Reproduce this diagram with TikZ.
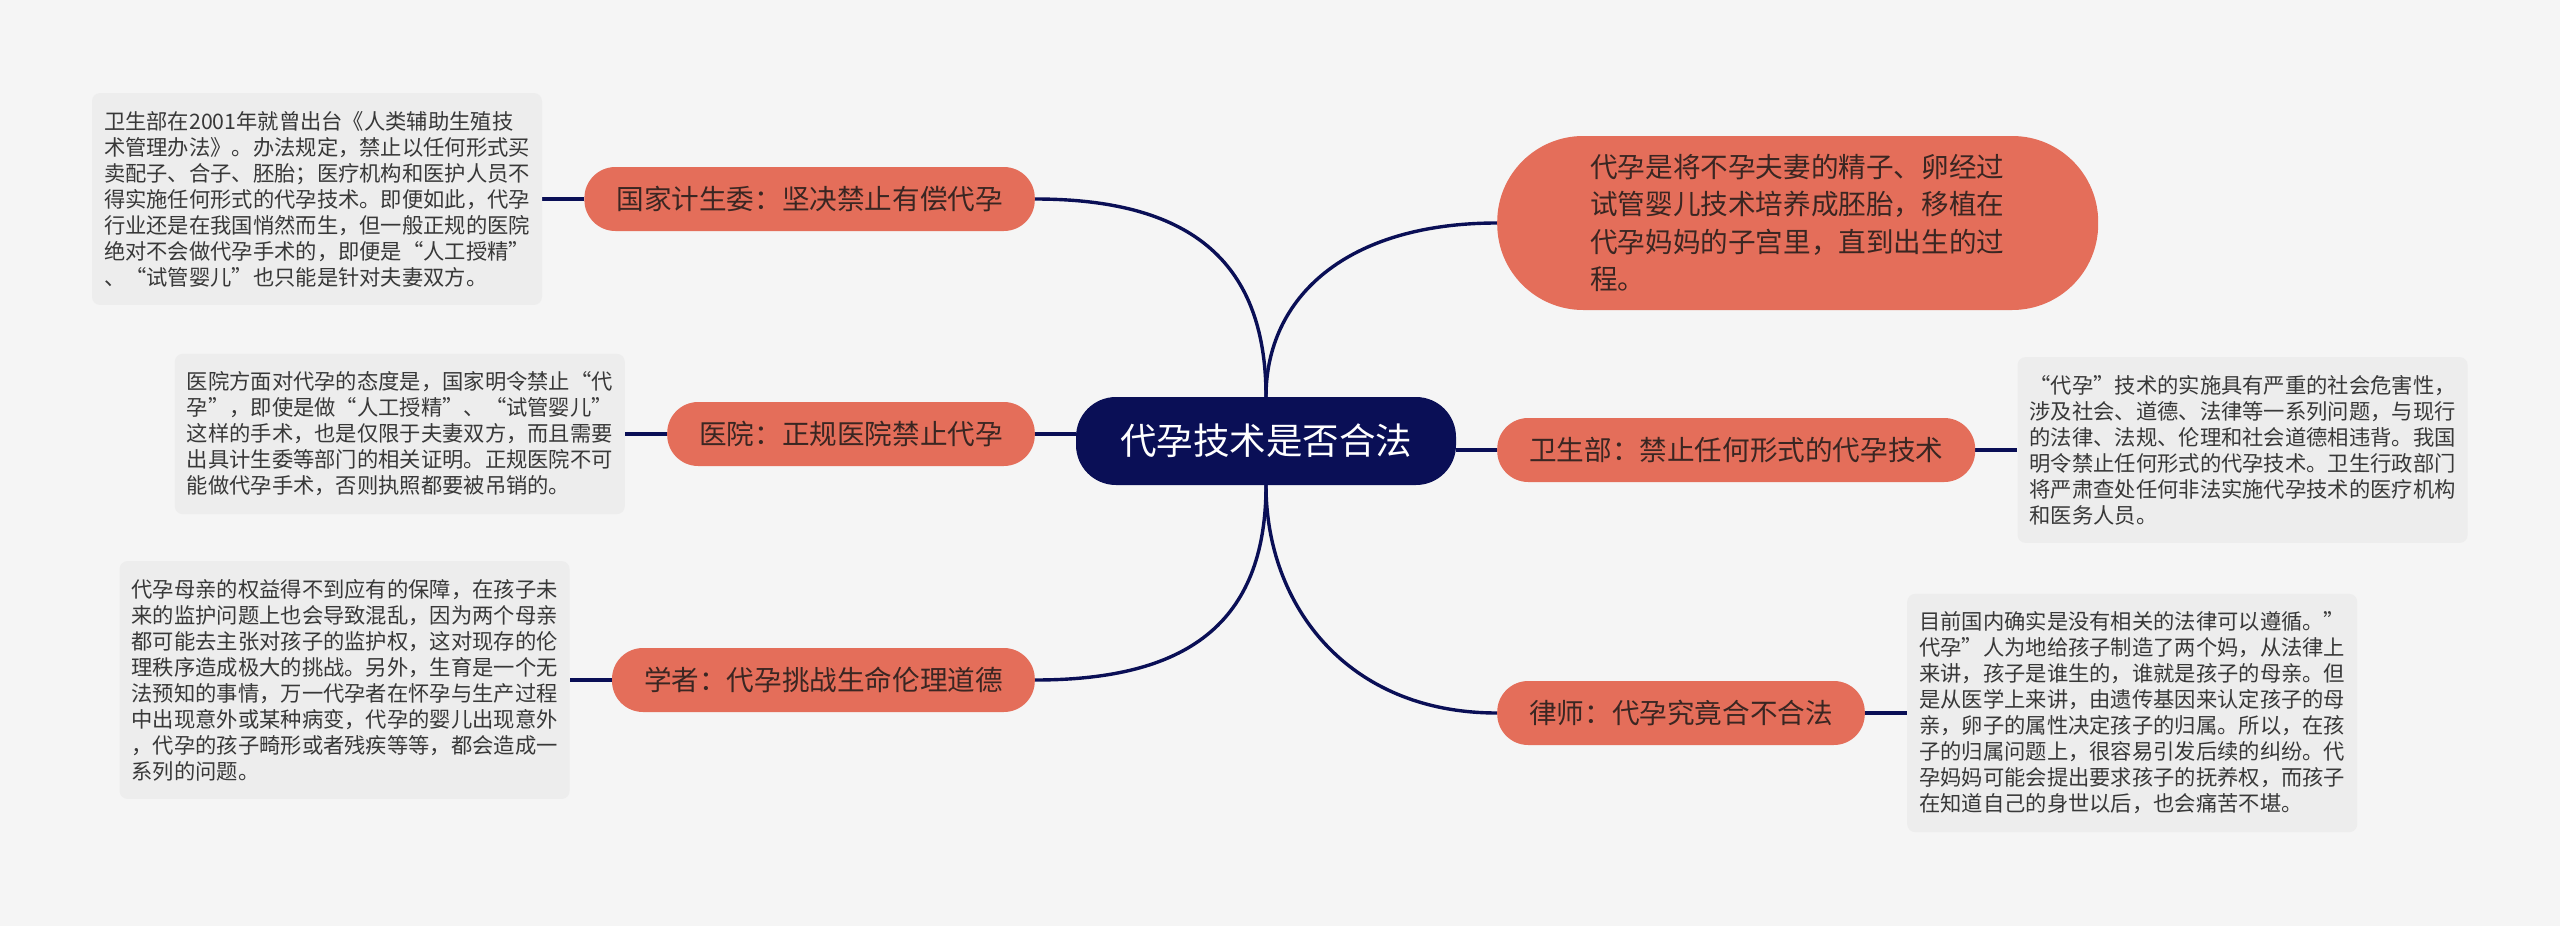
\documentclass[tikz,border=0pt]{standalone}
\usepackage{fontspec}
\setmainfont{Noto Sans CJK SC}
\usetikzlibrary{positioning, backgrounds}
\definecolor{pagegray}{HTML}{F5F5F5}
\definecolor{coral}{HTML}{E46E5A}
\definecolor{navy}{HTML}{0A0F56}
\definecolor{notegray}{HTML}{EDEDED}
\definecolor{notetext}{HTML}{383838}
\definecolor{topictext}{HTML}{3A2622}

\tikzset{
  root/.style={fill=navy, text=white, rounded corners=40pt, minimum height=88pt,
    inner xsep=44pt, inner ysep=0pt, font=\fontsize{36.5}{40}\selectfont},
  topic/.style={fill=coral, text=topictext, rounded corners=31pt, minimum height=64pt,
    inner xsep=32pt, inner ysep=0pt, font=\fontsize{27.6}{32}\selectfont},
  bigtopic/.style={topic, rounded corners=86pt, minimum height=174pt, minimum width=601pt,
    text width=415pt, align=left, font=\fontsize{27.6}{37.5}\selectfont},
  note/.style={fill=notegray, text=notetext, rounded corners=8pt, text width=426pt,
    inner xsep=12pt, inner ysep=18pt, align=left, font=\fontsize{21.3}{26}\selectfont},
  link/.style={draw=navy, line width=3.4pt},
}

\begin{document}
\begin{tikzpicture}[x=1pt, y=-1pt]

\def\gap{42pt}    % topic -> note distance
\useasboundingbox (0,0) rectangle (2560,926);

% --- Root ---
\node[root] (ctr) at (1266,441) {代孕技术是否合法};

% --- Left topics ---
\node[topic, anchor=east] (gj) at (1035,199) {国家计生委：坚决禁止有偿代孕};
\node[topic, anchor=east] (yy) at (1035,434) {医院：正规医院禁止代孕};
\node[topic, anchor=east] (xz) at (1035,680) {学者：代孕挑战生命伦理道德};

% --- Right topics ---
\node[bigtopic, anchor=west] (dy) at (1497,223)
  {代孕是将不孕夫妻的精子、卵经过\\试管婴儿技术培养成胚胎，移植在\\代孕妈妈的子宫里，直到出生的过\\程。};
\node[topic, anchor=west] (ws) at (1497,450) {卫生部：禁止任何形式的代孕技术};
\node[topic, anchor=west] (ls) at (1497,713) {律师：代孕究竟合不合法};

% --- Notes ---
\node[note, left=\gap of gj] (gjnote)
  {卫生部在2001年就曾出台《人类辅助生殖技\\术管理办法》。办法规定，禁止以任何形式买\\卖配子、合子、胚胎；医疗机构和医护人员不\\得实施任何形式的代孕技术。即便如此，代孕\\行业还是在我国悄然而生，但一般正规的医院\\绝对不会做代孕手术的，即便是“人工授精”\\、“试管婴儿”也只能是针对夫妻双方。};
\node[note, left=\gap of yy] (yynote)
  {医院方面对代孕的态度是，国家明令禁止“代\\孕”，即使是做“人工授精”、“试管婴儿”\\这样的手术，也是仅限于夫妻双方，而且需要\\出具计生委等部门的相关证明。正规医院不可\\能做代孕手术，否则执照都要被吊销的。};
\node[note, left=\gap of xz] (xznote)
  {代孕母亲的权益得不到应有的保障，在孩子未\\来的监护问题上也会导致混乱，因为两个母亲\\都可能去主张对孩子的监护权，这对现存的伦\\理秩序造成极大的挑战。另外，生育是一个无\\法预知的事情，万一代孕者在怀孕与生产过程\\中出现意外或某种病变，代孕的婴儿出现意外\\，代孕的孩子畸形或者残疾等等，都会造成一\\系列的问题。};
\node[note, right=\gap of ws] (wsnote)
  {“代孕”技术的实施具有严重的社会危害性，\\涉及社会、道德、法律等一系列问题，与现行\\的法律、法规、伦理和社会道德相违背。我国\\明令禁止任何形式的代孕技术。卫生行政部门\\将严肃查处任何非法实施代孕技术的医疗机构\\和医务人员。};
\node[note, right=\gap of ls] (lsnote)
  {目前国内确实是没有相关的法律可以遵循。”\\代孕”人为地给孩子制造了两个妈，从法律上\\来讲，孩子是谁生的，谁就是孩子的母亲。但\\是从医学上来讲，由遗传基因来认定孩子的母\\亲，卵子的属性决定孩子的归属。所以，在孩\\子的归属问题上，很容易引发后续的纠纷。代\\孕妈妈可能会提出要求孩子的抚养权，而孩子\\在知道自己的身世以后，也会痛苦不堪。};

\begin{scope}[on background layer]
\fill[pagegray] (0,0) rectangle (2560,926);

% --- Root -> topics ---
\draw[link] (ctr.north) .. controls +(0,-140) and +(150,0) .. (gj.east);
\draw[link] (ctr.north) .. controls +(0,-100) and +(-150,0) .. (dy.west);
\draw[link] (ctr.south) .. controls +(0,140) and +(150,0) .. (xz.east);
\draw[link] (ctr.south) .. controls +(0,120) and +(-150,0) .. (ls.west);
\draw[link] (yy.east) -- (yy.east -| ctr.west);
\draw[link] (ws.west) -- (ws.west -| ctr.east);

% --- Topics -> notes ---
\draw[link] (gj.west) -- (gjnote.east);
\draw[link] (yy.west) -- (yynote.east);
\draw[link] (xz.west) -- (xznote.east);
\draw[link] (ws.east) -- (wsnote.west);
\draw[link] (ls.east) -- (lsnote.west);
\end{scope}

\end{tikzpicture}
\end{document}
